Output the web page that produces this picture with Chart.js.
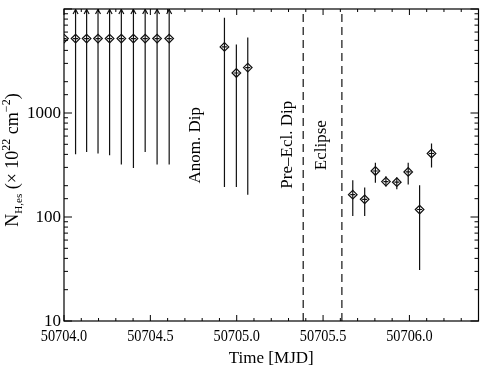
<!DOCTYPE html>
<html>
<head>
<meta charset="utf-8">
<script src="https://cdn.jsdelivr.net/npm/chart.js@4/dist/chart.umd.min.js"></script>
<style>
  html, body { margin: 0; padding: 0; background: #fff; }
</style>
</head>
<body>
<canvas id="nhChart" width="484" height="368"></canvas>
<script>
'use strict';

// values
const times = [50704.000, 50704.067, 50704.131, 50704.197, 50704.264, 50704.332, 50704.402, 50704.470, 50704.539, 50704.609,
               50704.929, 50704.998, 50705.064,
               50705.672, 50705.741, 50705.803, 50705.864, 50705.927, 50705.993, 50706.059, 50706.128];
const nh     = [5200, 5200, 5200, 5200, 5200, 5200, 5200, 5200, 5200, 5200,
                4320, 2425, 2735,
                164, 148, 277, 219, 216, 271, 118, 408];
const nhLow  = [null, 401, 422, 409, 392, 319, 296, 422, 319, 319,
                194, 194, 164,
                102, 102, 214, 197, 185, 205, 31, 299];
// null = error bar runs off the top (drawn with an arrow)
const nhHigh = [null, null, null, null, null, null, null, null, null, null,
                8260, 4550, 5310,
                225, 192, 333, 246, 240, 333, 202, 508];

const eventLines = [50705.385, 50705.609];
const eventLabels = ['Anom. Dip', 'Pre–Ecl. Dip', 'Eclipse'];
const eventLabelX = [50704.759, 50705.293, 50705.489];
const eventLabelY = [490, 495, 490];

const xMajorTicks = [50704.0, 50704.5, 50705.0, 50705.5, 50706.0];
const yLabelled = [10, 100, 1000];

const SERIF = '"Liberation Serif", serif';

//----------------

const extras = {
    id: 'extras',
    beforeDatasetsDraw(chart) {
        const { ctx, chartArea: a, scales: { x, y } } = chart;
        ctx.save();
        ctx.beginPath();
        ctx.rect(a.left, a.top, a.right - a.left, a.bottom - a.top);
        ctx.clip();
        ctx.strokeStyle = '#111';
        ctx.lineWidth = 1.2;

        // dashed event lines
        ctx.setLineDash([8, 5]);
        eventLines.forEach(t => {
            const px = x.getPixelForValue(t);
            ctx.beginPath();
            ctx.moveTo(px, a.bottom);
            ctx.lineTo(px, a.top);
            ctx.stroke();
        });
        ctx.setLineDash([]);

        // error bars
        times.forEach((t, i) => {
            const px = x.getPixelForValue(t);
            const py = y.getPixelForValue(nh[i]);
            ctx.beginPath();
            ctx.moveTo(px - 2.5, py);
            ctx.lineTo(px + 2.5, py);
            ctx.stroke();
            if (nhLow[i] === null) return;
            const yLo = y.getPixelForValue(nhLow[i]);
            const yHi = nhHigh[i] === null ? a.top : y.getPixelForValue(nhHigh[i]);
            ctx.beginPath();
            ctx.moveTo(px, yLo);
            ctx.lineTo(px, yHi);
            ctx.stroke();
            if (nhHigh[i] === null) {
                ctx.beginPath();
                ctx.moveTo(px - 2.5, a.top + 5);
                ctx.lineTo(px, a.top + 0.5);
                ctx.lineTo(px + 2.5, a.top + 5);
                ctx.stroke();
            }
        });
        ctx.restore();
    },
    afterDraw(chart) {
        const { ctx, chartArea: a, scales: { x, y } } = chart;
        ctx.save();
        ctx.strokeStyle = '#000';
        ctx.lineWidth = 1.2;
        ctx.strokeRect(a.left, a.top, a.right - a.left, a.bottom - a.top);

        // inward ticks, x (major 0.5, minor 0.1)
        ctx.lineWidth = 1;
        for (let k = 0; k <= Math.round((x.max - x.min) * 10); k++) {
            const v = x.min + k * 0.1;
            const px = x.getPixelForValue(v);
            const len = k % 5 === 0 ? 6 : 3;
            ctx.beginPath();
            ctx.moveTo(px, a.bottom); ctx.lineTo(px, a.bottom - len);
            ctx.moveTo(px, a.top); ctx.lineTo(px, a.top + len);
            ctx.stroke();
        }
        // inward ticks, y (log)
        y.ticks.forEach(tk => {
            const py = y.getPixelForValue(tk.value);
            const lg = Math.log10(tk.value);
            const len = Math.abs(lg - Math.round(lg)) < 1e-9 ? 8 : 4;
            ctx.beginPath();
            ctx.moveTo(a.left, py); ctx.lineTo(a.left + len, py);
            ctx.moveTo(a.right, py); ctx.lineTo(a.right - len, py);
            ctx.stroke();
        });

        ctx.fillStyle = '#000';

        // tick labels
        ctx.font = '17px ' + SERIF;
        ctx.textAlign = 'right';
        ctx.textBaseline = 'middle';
        y.ticks.filter(tk => yLabelled.includes(tk.value)).forEach(tk => {
            ctx.fillText(String(tk.value), a.left - 3, y.getPixelForValue(tk.value) + 1);
        });
        ctx.textAlign = 'center';
        ctx.textBaseline = 'top';
        x.ticks.forEach(tk => {
            ctx.save();
            ctx.translate(x.getPixelForValue(tk.value), a.bottom + 7);
            ctx.scale(0.84, 1);
            ctx.fillText(tk.value.toFixed(1), 0, 0);
            ctx.restore();
        });

        // rotated event labels
        ctx.font = '17px ' + SERIF;
        ctx.textAlign = 'center';
        ctx.textBaseline = 'middle';
        eventLabels.forEach((txt, i) => {
            ctx.save();
            ctx.translate(x.getPixelForValue(eventLabelX[i]), y.getPixelForValue(eventLabelY[i]));
            ctx.rotate(-Math.PI / 2);
            ctx.fillText(txt, 0, 0);
            ctx.restore();
        });

        // x title
        ctx.font = '17px ' + SERIF;
        ctx.fillText('Time [MJD]', (a.left + a.right) / 2, 359);

        // y title with sub/superscripts
        const parts = [
            { t: 'N', f: 18, dy: 0 },
            { t: 'H,es', f: 11, dy: 4 },
            { t: ' (× 10', f: 18, dy: 0 },
            { t: '22', f: 12, dy: -8 },
            { t: ' cm', f: 18, dy: 0 },
            { t: '−2', f: 12, dy: -8 },
            { t: ')', f: 18, dy: 0 }
        ];
        let total = 0;
        parts.forEach(p => { ctx.font = p.f + 'px ' + SERIF; p.w = ctx.measureText(p.t).width; total += p.w; });
        ctx.translate(12, 160);
        ctx.rotate(-Math.PI / 2);
        ctx.textAlign = 'left';
        ctx.textBaseline = 'alphabetic';
        let cx = -total / 2;
        parts.forEach(p => {
            ctx.font = p.f + 'px ' + SERIF;
            ctx.fillText(p.t, cx, 6 + p.dy);
            cx += p.w;
        });
        ctx.restore();
    }
};

new Chart(document.getElementById('nhChart'), {
    type: 'scatter',
    data: {
        datasets: [{
            data: times.map((t, i) => ({ x: t, y: nh[i] })),
            pointStyle: 'rectRot',
            pointRadius: 4.3,
            pointBorderWidth: 1.2,
            pointBorderColor: '#111',
            pointBackgroundColor: 'rgba(0,0,0,0)',
            clip: 0
        }]
    },
    options: {
        responsive: false,
        animation: false,
        layout: { padding: { top: 9, right: 3, left: 0, bottom: 0 } },
        plugins: { legend: { display: false }, tooltip: { enabled: false } },
        scales: {
            x: {
                type: 'linear',
                min: 50704.0,
                max: 50706.4,
                grid: { display: false, drawTicks: false },
                border: { display: false },
                afterBuildTicks: s => { s.ticks = xMajorTicks.map(v => ({ value: v })); },
                ticks: { display: false },
                afterFit: s => { s.height = 47; }
            },
            y: {
                type: 'logarithmic',
                min: 10,
                max: 10000,
                grid: { display: false, drawTicks: false },
                border: { display: false },
                ticks: { display: false, autoSkip: false },
                afterFit: s => { s.width = 64; }
            }
        }
    },
    plugins: [extras]
});
</script>
</body>
</html>
